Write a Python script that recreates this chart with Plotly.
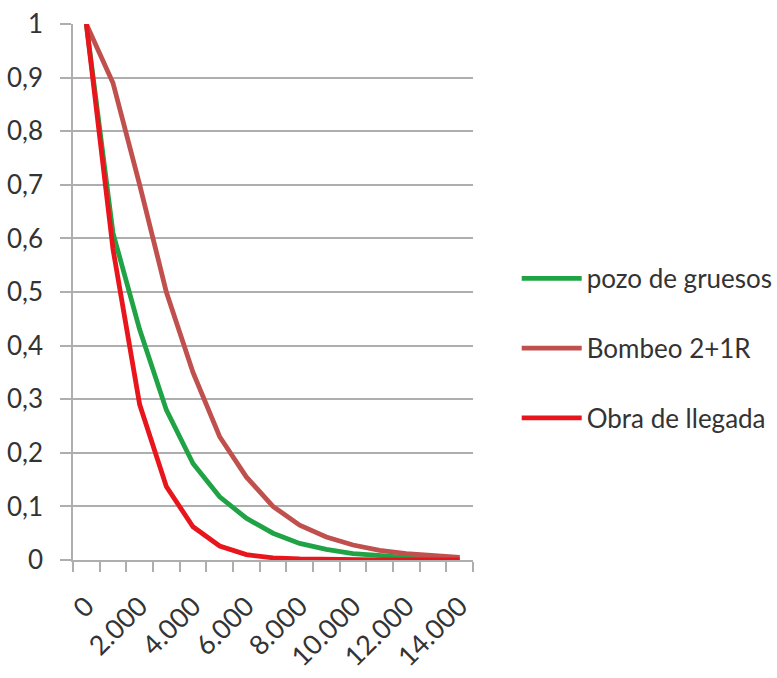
import plotly.graph_objects as go

# Flow (x) categories and the three decay curves
x_vals = [0, 1000, 2000, 3000, 4000, 5000, 6000, 7000, 8000, 9000,
          10000, 11000, 12000, 13000, 14000]
pozo_gruesos = [1.0, 0.61, 0.43, 0.28, 0.18, 0.118, 0.078, 0.05, 0.031,
                0.02, 0.012, 0.008, 0.005, 0.003, 0.002]
bombeo = [1.0, 0.89, 0.70, 0.50, 0.35, 0.23, 0.155, 0.10, 0.065, 0.043,
          0.028, 0.018, 0.012, 0.008, 0.005]
obra_llegada = [1.0, 0.58, 0.29, 0.137, 0.062, 0.026, 0.01, 0.004, 0.002,
                0.001, 0.0006, 0.0004, 0.0003, 0.0002, 0.0001]

x_tick_vals = [0, 2000, 4000, 6000, 8000, 10000, 12000, 14000]
x_tick_text = ["0", "2.000", "4.000", "6.000", "8.000", "10.000", "12.000", "14.000"]
y_tick_vals = [0, 0.1, 0.2, 0.3, 0.4, 0.5, 0.6, 0.7, 0.8, 0.9, 1.0]
y_tick_text = ["0", "0,1", "0,2", "0,3", "0,4", "0,5", "0,6", "0,7", "0,8", "0,9", "1"]

FONT = "Lato, Open Sans, sans-serif"
TEXT = "#333333"
GRID = "#AEAEAE"

series = [
    ("pozo de gruesos", pozo_gruesos, "#1FA345"),
    ("Bombeo 2+1R", bombeo, "#C0504D"),
    ("Obra de llegada", obra_llegada, "#E8161C"),
]

fig = go.Figure()
for name, ys, color in series:
    fig.add_trace(go.Scatter(
        x=x_vals, y=ys, name=name, mode="lines",
        line=dict(color=color, width=4.8),
        legendgroup=name,
    ))

fig.update_layout(
    width=777, height=678,
    margin=dict(l=73, r=304, t=24, b=118),
    paper_bgcolor="white", plot_bgcolor="white",
    font=dict(family=FONT, size=26, color=TEXT),
    showlegend=True,
    legend=dict(
        xref="container", yref="container",
        x=0.665, y=0.624, xanchor="left", yanchor="top",
        itemwidth=60, tracegroupgap=33,
        font=dict(family=FONT, size=26, color=TEXT),
        bgcolor="rgba(0,0,0,0)",
    ),
    xaxis=dict(
        range=[-500, 14500], tickmode="array",
        tickvals=x_tick_vals, ticktext=x_tick_text, tickangle=-45,
        ticks="", showgrid=False, zeroline=False,
        showline=True, linecolor=GRID, linewidth=1.5,
        ticklabelstandoff=18, automargin=False,
        tickfont=dict(family=FONT, size=27, color=TEXT),
        minor=dict(tick0=-500, dtick=1000, ticks="outside", ticklen=10,
                   tickcolor=GRID, tickwidth=1.5, showgrid=False),
    ),
    yaxis=dict(
        range=[0, 1], tickmode="array",
        tickvals=y_tick_vals, ticktext=y_tick_text,
        ticks="outside", ticklen=11, tickcolor=GRID, tickwidth=2,
        showgrid=True, gridcolor=GRID, gridwidth=2, zeroline=False,
        showline=True, linecolor=GRID, linewidth=1.5,
        ticklabelstandoff=12, automargin=False,
        tickfont=dict(family=FONT, size=26, color=TEXT),
    ),
)

fig.write_html("out.html")
